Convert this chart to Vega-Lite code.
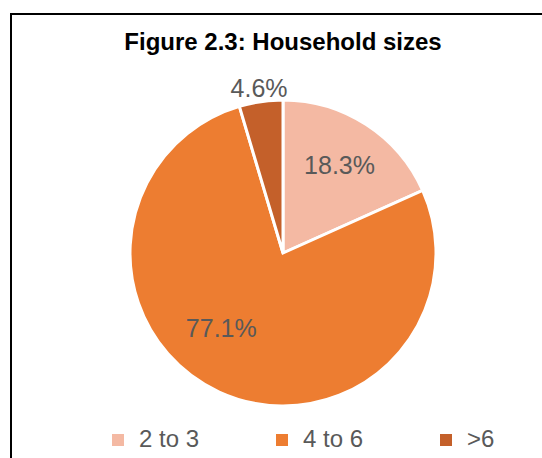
{
  "$schema": "https://vega.github.io/schema/vega-lite/v6.json",
  "autosize": "none",
  "padding": {"left": 11, "top": 14, "right": 0, "bottom": 0},
  "width": 544,
  "height": 478,
  "background": "white",
  "view": {"stroke": "#000000", "strokeWidth": 2},
  "title": {
    "text": "Figure 2.3: Household sizes",
    "font": "Liberation Sans",
    "fontSize": 24,
    "fontWeight": "bold",
    "color": "#000000",
    "anchor": "middle",
    "baseline": "alphabetic",
    "offset": -60
  },
  "config": {
    "view": {"stroke": "#000000", "strokeWidth": 2},
    "text": {"font": "Liberation Sans"}
  },
  "data": {
    "values": [
      {"size": "2 to 3", "pct": 18.3, "ord": 1, "label": "18.3%"},
      {"size": "4 to 6", "pct": 77.1, "ord": 2, "label": "77.1%"},
      {"size": ">6", "pct": 4.6, "ord": 3, "label": "4.6%"}
    ]
  },
  "encoding": {
    "theta": {"field": "pct", "type": "quantitative", "stack": true},
    "order": {"field": "ord", "type": "quantitative"}
  },
  "layer": [
    {
      "mark": {"type": "arc", "outerRadius": 153, "stroke": "white", "strokeWidth": 3},
      "encoding": {
        "color": {
          "field": "size",
          "type": "nominal",
          "sort": ["2 to 3", "4 to 6", ">6"],
          "scale": {"domain": ["2 to 3", "4 to 6", ">6"], "range": ["#F4B9A3", "#ED7D31", "#C4602A"]},
          "legend": {
            "title": null,
            "orient": "none",
            "direction": "horizontal",
            "legendX": 95,
            "legendY": 414,
            "symbolType": "square",
            "symbolSize": 144,
            "symbolStrokeWidth": 0,
            "labelFont": "Liberation Sans",
            "labelFontSize": 24,
            "labelColor": "#595959",
            "labelOffset": 9,
            "columnPadding": 70,
            "gridAlign": "all"
          }
        }
      }
    },
    {
      "mark": {"type": "text", "radius": 104, "fontSize": 25, "color": "#595959"},
      "encoding": {
        "text": {"condition": {"test": "datum.size === '2 to 3'", "field": "label"}, "value": ""}
      }
    },
    {
      "mark": {"type": "text", "radius": 100, "dx": -20, "dy": -15, "fontSize": 25, "color": "#595959"},
      "encoding": {
        "text": {"condition": {"test": "datum.size === '4 to 6'", "field": "label"}, "value": ""}
      }
    },
    {
      "mark": {"type": "text", "radius": 166, "fontSize": 25, "color": "#595959"},
      "encoding": {
        "text": {"condition": {"test": "datum.size === '>6'", "field": "label"}, "value": ""}
      }
    }
  ]
}
